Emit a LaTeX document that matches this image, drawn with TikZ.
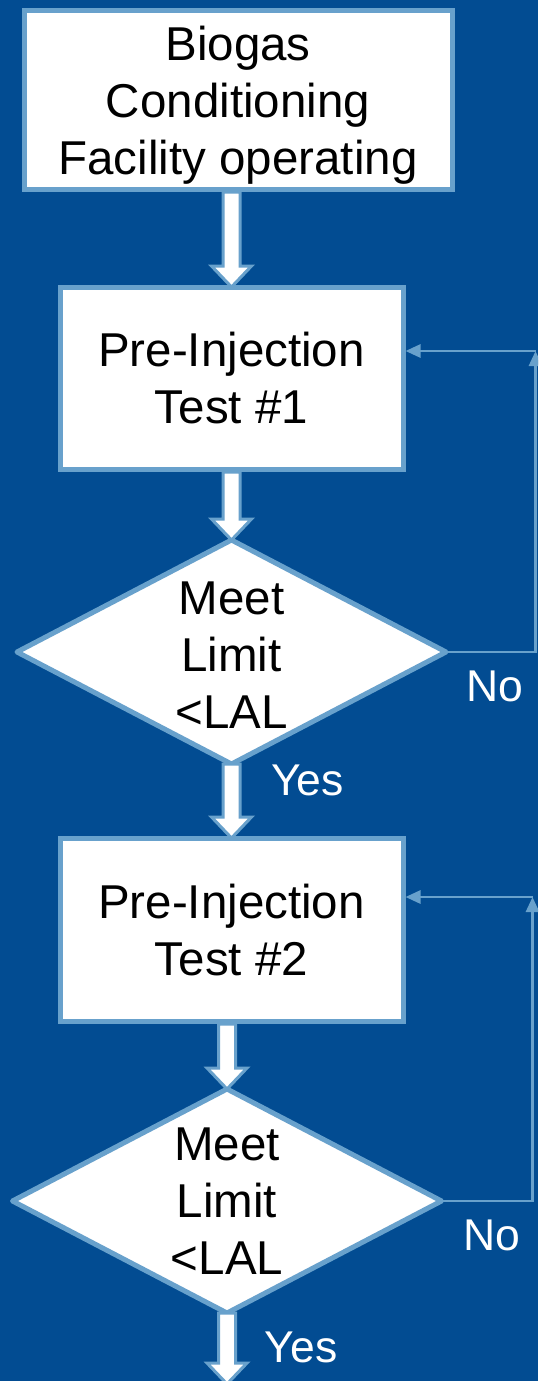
\documentclass[tikz,border=0pt]{standalone}
\usepackage{fontspec}
\setmainfont{Liberation Sans}
\usetikzlibrary{shapes.geometric,arrows.meta,calc}

\definecolor{bgblue}{RGB}{2,76,146}
\definecolor{edgeblue}{RGB}{104,161,204}

% Hollow block arrow pointing down from #1 to #2 (x taken from #2)
\newcommand\blockarrow[2]{%
  \path[draw=edgeblue, fill=white, line width=3pt, line join=miter]
    let \p1=(#1), \p2=(#2) in
    ({\x2-8.5pt},{\y1}) -- ({\x2-8.5pt},{\y2+21pt}) -- ({\x2-20pt},{\y2+21pt})
    -- (\x2,\y2) -- ({\x2+20pt},{\y2+21pt}) -- ({\x2+8.5pt},{\y2+21pt})
    -- ({\x2+8.5pt},{\y1}) -- cycle;}

\begin{document}
\begin{tikzpicture}[x=1pt,y=-1pt,
  stepbox/.style={rectangle, draw=edgeblue, fill=white, line width=5pt,
    inner sep=0pt, outer sep=0pt, align=center, text depth=0pt,
    font=\fontsize{47.5}{57}\selectfont},
  decision/.style={diamond, draw=edgeblue, fill=white, line width=5pt,
    line join=round, inner sep=0pt, outer sep=0pt,
    minimum width=429pt, minimum height=224pt},
  dtext/.style={align=center, inner sep=0pt, text depth=0pt,
    font=\fontsize{47.5}{57}\selectfont},
  answer/.style={text=white, inner sep=0pt, anchor=base,
    font=\fontsize{44.5}{50}\selectfont},
  loopline/.style={draw=edgeblue, line width=2.8pt,
    -{Triangle[length=15pt,width=13pt]}},
]
\fill[bgblue] (0,0) rectangle (538,1381);
\useasboundingbox (0,0) rectangle (538,1381);
\clip (0,0) rectangle (538,1381);

% process boxes and decisions
\node[stepbox, minimum width=428pt, minimum height=178pt] (b1) at (238,100)
  {Biogas\\Conditioning\\Facility operating};
\node[stepbox, minimum width=343pt, minimum height=182pt] (b2) at (231.5,378)
  {Pre-Injection\\Test \#1};
\node[decision] (d1) at (231.5,652) {};
\node[dtext] (t1) at (231.5,655) {Meet\\Limit\\<LAL};
\node[stepbox, minimum width=343pt, minimum height=183pt] (b3) at (231.5,929.5)
  {Pre-Injection\\Test \#2};
\node[decision] (d2) at (227,1201) {};
\node[dtext] (t2) at (227,1201) {Meet\\Limit\\<LAL};
\coordinate (e5) at (227,1384);

% main flow
\blockarrow{$(b1.south)+(0,3)$}{b2.north}
\blockarrow{$(b2.south)+(0,3)$}{d1.north}
\blockarrow{d1.south}{b3.north}
\blockarrow{$(b3.south)+(0,3)$}{d2.north}
\blockarrow{d2.south}{e5}

% retest loops
\coordinate (r1) at (535.5,351);
\draw[loopline] (d1.east) -| (r1);
\draw[loopline] (r1) -- ($(r1 -| b2.east)+(2.5,0)$);
\coordinate (r2) at (532.5,897);
\draw[loopline] (d2.east) -| (r2);
\draw[loopline] (r2) -- ($(r2 -| b3.east)+(2.5,0)$);

% branch labels
\node[answer] (no1) at (495,701) {No};
\node[answer] (yes1) at (307.5,795) {Yes};
\node[answer] (no2) at (492,1250) {No};
\node[answer] (yes2) at (301,1362) {Yes};
\end{tikzpicture}
\end{document}
